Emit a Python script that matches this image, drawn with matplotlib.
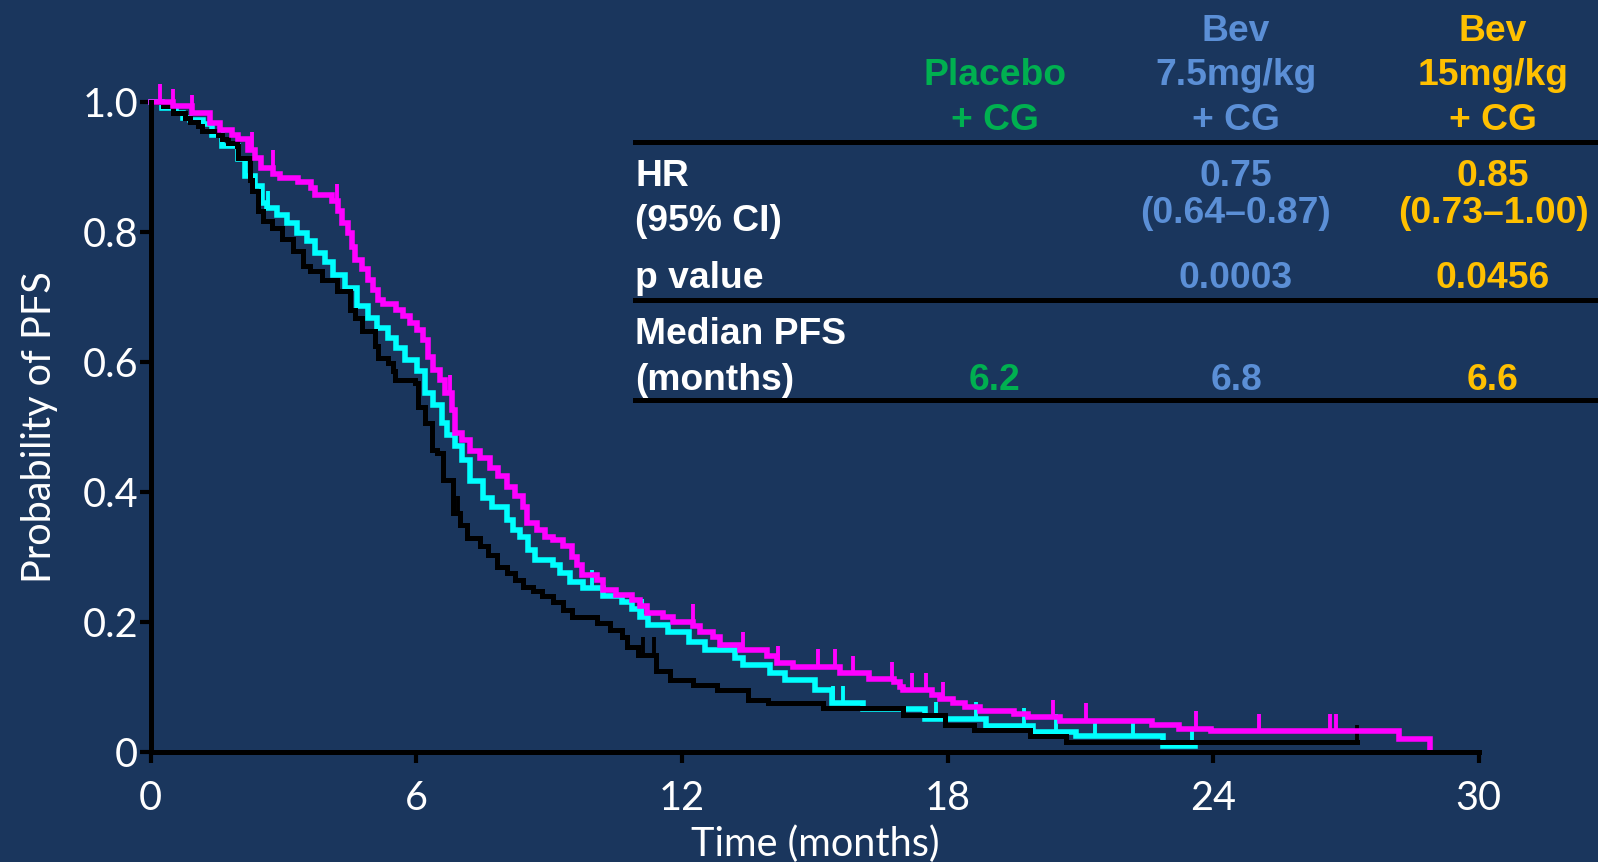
import matplotlib
matplotlib.use("Agg")
import matplotlib.pyplot as plt
from matplotlib.lines import Line2D
import numpy as np

# Kaplan-Meier step data (time in months, probability of PFS)
cyan_t = [0, 0.25, 0.58, 0.73, 0.89, 1.19, 1.38, 1.60, 1.98, 2.13, 2.35, 2.51, 2.62, 2.84,
          3.07, 3.30, 3.52, 3.71, 3.93, 4.12, 4.39, 4.65, 4.91, 5.10, 5.36, 5.55, 5.74,
          6.01, 6.19, 6.38, 6.57, 6.68, 6.87, 7.04, 7.21, 7.51, 7.70, 8.04, 8.19, 8.34,
          8.53, 8.68, 9.09, 9.24, 9.47, 9.77, 10.22, 10.64, 10.86, 11.05, 11.24, 11.69,
          12.16, 12.52, 13.20, 13.38, 13.99, 14.33, 15.00, 15.38, 16.10, 17.50, 18.86,
          19.94, 20.89, 22.86]
cyan_s = [1.0, 0.990, 0.983, 0.975, 0.972, 0.965, 0.949, 0.931, 0.911, 0.885, 0.870, 0.844,
          0.836, 0.826, 0.813, 0.798, 0.785, 0.767, 0.754, 0.734, 0.713, 0.685, 0.667,
          0.652, 0.636, 0.621, 0.603, 0.585, 0.552, 0.533, 0.506, 0.488, 0.470, 0.449,
          0.416, 0.390, 0.377, 0.357, 0.342, 0.331, 0.311, 0.295, 0.288, 0.275, 0.262,
          0.252, 0.240, 0.230, 0.220, 0.208, 0.195, 0.184, 0.169, 0.156, 0.144, 0.134,
          0.121, 0.111, 0.095, 0.075, 0.066, 0.050, 0.040, 0.031, 0.024, 0.009]
cyan_end = 23.6
cyan_cens = [2.65, 9.96, 11.09, 15.42, 15.64, 17.73, 18.64, 19.72, 20.44, 21.33, 22.19, 23.53]

black_t = [0, 0.28, 0.51, 0.77, 0.89, 1.07, 1.15, 1.52, 1.60, 1.75, 1.94, 1.98, 2.24, 2.28,
           2.43, 2.54, 2.73, 2.96, 3.22, 3.44, 3.60, 3.86, 4.20, 4.50, 4.61, 4.76, 5.06,
           5.14, 5.36, 5.48, 5.52, 5.97, 6.04, 6.19, 6.35, 6.46, 6.61, 6.83, 6.98, 7.14,
           7.44, 7.62, 7.81, 8.04, 8.23, 8.41, 8.64, 8.83, 9.09, 9.32, 9.51, 10.07, 10.37,
           10.64, 10.75, 11.01, 11.42, 11.73, 12.25, 12.78, 13.50, 13.95, 15.19, 17.00,
           17.94, 18.60, 19.86, 20.68]
black_s = [1.0, 0.993, 0.983, 0.975, 0.968, 0.962, 0.954, 0.949, 0.943, 0.936, 0.931, 0.913,
           0.880, 0.862, 0.831, 0.816, 0.806, 0.788, 0.770, 0.747, 0.739, 0.726, 0.708,
           0.680, 0.667, 0.647, 0.624, 0.606, 0.598, 0.585, 0.572, 0.567, 0.531, 0.506,
           0.465, 0.460, 0.418, 0.367, 0.349, 0.329, 0.316, 0.303, 0.285, 0.275, 0.265,
           0.254, 0.247, 0.239, 0.230, 0.218, 0.207, 0.198, 0.188, 0.177, 0.162, 0.149,
           0.124, 0.111, 0.103, 0.095, 0.080, 0.075, 0.067, 0.057, 0.042, 0.034, 0.024,
           0.015]
black_end = 27.25
black_cens = [6.95, 11.12, 11.37, 27.25]

mag_t = [0, 0.51, 0.92, 1.34, 1.56, 1.83, 1.98, 2.20, 2.35, 2.50, 2.77, 2.92, 3.33, 3.63,
         3.71, 4.09, 4.24, 4.31, 4.46, 4.54, 4.61, 4.76, 4.91, 5.03, 5.14, 5.25, 5.55, 5.70,
         5.86, 6.01, 6.16, 6.27, 6.38, 6.53, 6.65, 6.80, 6.87, 7.02, 7.22, 7.44, 7.66, 7.85,
         8.04, 8.23, 8.41, 8.49, 8.72, 8.90, 9.09, 9.32, 9.51, 9.62, 9.73, 10.07, 10.22,
         10.52, 10.86, 11.05, 11.20, 11.58, 11.80, 12.25, 12.41, 12.71, 12.86, 13.31, 13.91,
         14.14, 14.51, 15.57, 16.23, 16.79, 16.92, 17.00, 17.65, 17.82, 18.13, 18.39, 18.73,
         19.51, 19.81, 20.55, 22.62, 23.23, 23.96, 28.20, 28.89]
mag_s = [1.0, 0.993, 0.983, 0.967, 0.957, 0.949, 0.942, 0.926, 0.913, 0.898, 0.888, 0.883,
         0.877, 0.867, 0.857, 0.847, 0.831, 0.813, 0.798, 0.777, 0.757, 0.742, 0.726, 0.711,
         0.695, 0.688, 0.680, 0.670, 0.660, 0.649, 0.634, 0.608, 0.588, 0.572, 0.552, 0.526,
         0.490, 0.480, 0.462, 0.452, 0.436, 0.424, 0.408, 0.393, 0.377, 0.352, 0.342, 0.331,
         0.326, 0.316, 0.300, 0.288, 0.272, 0.265, 0.249, 0.242, 0.234, 0.224, 0.213, 0.208,
         0.200, 0.193, 0.185, 0.177, 0.165, 0.157, 0.147, 0.136, 0.131, 0.121, 0.112, 0.107,
         0.100, 0.095, 0.087, 0.081, 0.075, 0.069, 0.063, 0.058, 0.053, 0.048, 0.042, 0.036,
         0.032, 0.020, 0.006]
mag_end = 28.89
mag_cens = [0.21, 0.51, 0.92, 2.28, 2.75, 4.20, 6.76, 12.24, 13.38, 14.16, 15.08, 15.46,
            15.86, 16.74, 17.19, 17.51, 17.89, 20.38, 21.13, 23.62, 25.03, 26.64, 26.78]

x_ticks = [0, 6, 12, 18, 24, 30]
y_ticks = [0, 0.2, 0.4, 0.6, 0.8, 1.0]
y_ticklabels = ["0", "0.2", "0.4", "0.6", "0.8", "1.0"]

# summary table
arm_names = [["", "Placebo", "+ CG"], ["Bev", "7.5mg/kg", "+ CG"], ["Bev", "15mg/kg", "+ CG"]]
arm_colors = ["#00b050", "#5b8fd6", "#ffc000"]
hr_vals = ["", "0.75", "0.85"]
hr_ci = ["", "(0.64\u20130.87)", "(0.73\u20131.00)"]
p_vals = ["", "0.0003", "0.0456"]
median_pfs = ["6.2", "6.8", "6.6"]

BG = "#1a365d"
W, H = 1598, 862

fig = plt.figure(figsize=(15.98, 8.625), dpi=100, facecolor=BG)
ax = fig.add_axes([150.8 / W, 110 / H, 1328 / W, 650 / H])
ax.set_facecolor(BG)


def draw_km(t, s, end, cens, color, lw=4.0):
    t = np.asarray(t)
    s = np.asarray(s)
    tt = np.append(t, end)
    ss = np.append(s, s[-1])
    ax.step(tt, ss, where="post", color=color, lw=lw, clip_on=False,
            solid_joinstyle="miter")
    idx = np.searchsorted(t, cens, side="right") - 1
    cs = s[idx]
    ax.vlines(cens, cs, cs + 0.027, color=color, lw=2.8, clip_on=False)


draw_km(cyan_t, cyan_s, cyan_end, cyan_cens, "#00ffff")
draw_km(black_t, black_s, black_end, black_cens, "#000000", lw=3.6)
draw_km(mag_t, mag_s, mag_end, mag_cens, "#ff00ff")

ax.set_xlim(0, 30)
ax.set_ylim(0, 1.0)
for side in ["top", "right"]:
    ax.spines[side].set_visible(False)
for side in ["left", "bottom"]:
    ax.spines[side].set_linewidth(3.6)
    ax.spines[side].set_color("black")
    ax.spines[side].set_capstyle("projecting")

axis_font = dict(family=["Lato", "DejaVu Sans"], size=28.5, color="white")
ax.set_xticks(x_ticks)
ax.set_xticklabels([str(v) for v in x_ticks], **axis_font)
ax.set_yticks(y_ticks)
ax.set_yticklabels(y_ticklabels, **axis_font)
ax.tick_params(axis="both", length=8, width=3, color="black")
ax.tick_params(axis="x", pad=12)
ax.tick_params(axis="y", pad=1)
ax.set_xlabel("Time (months)", labelpad=6, **axis_font)
ax.set_ylabel("Probability of PFS", labelpad=18, **axis_font)


def ftext(px, py, s, color="white", ha="center"):
    fig.text(px / W, 1 - py / H, s, color=color, ha=ha, va="center",
             family=["Liberation Sans", "DejaVu Sans"], weight="bold", size=26.8)


cols_x = [994.6, 1236, 1493]
for cx, names, c in zip(cols_x, arm_names, arm_colors):
    for py, s in zip([31.5, 75.5, 120.5], names):
        ftext(cx, py, s, c)

left_x = 635
ftext(left_x, 176, "HR", ha="left")
ftext(left_x, 221, "(95% CI)", ha="left")
ftext(left_x, 278, "p value", ha="left")
ftext(left_x, 334, "Median PFS", ha="left")
ftext(left_x, 380, "(months)", ha="left")

for cx, c, hr, ci, p, m in zip(cols_x, arm_colors, hr_vals, hr_ci, p_vals, median_pfs):
    ftext(cx, 176, hr, c)
    ftext(cx, 213, ci, c)
    ftext(cx, 278, p, c)
    ftext(cx, 380, m, c)

for py in [142.7, 300.6, 400.5]:
    fig.add_artist(Line2D([left_x / W, 1.0], [1 - py / H, 1 - py / H],
                          color="black", lw=3.6, transform=fig.transFigure))

fig.savefig("out.png", dpi=100, facecolor=BG)
